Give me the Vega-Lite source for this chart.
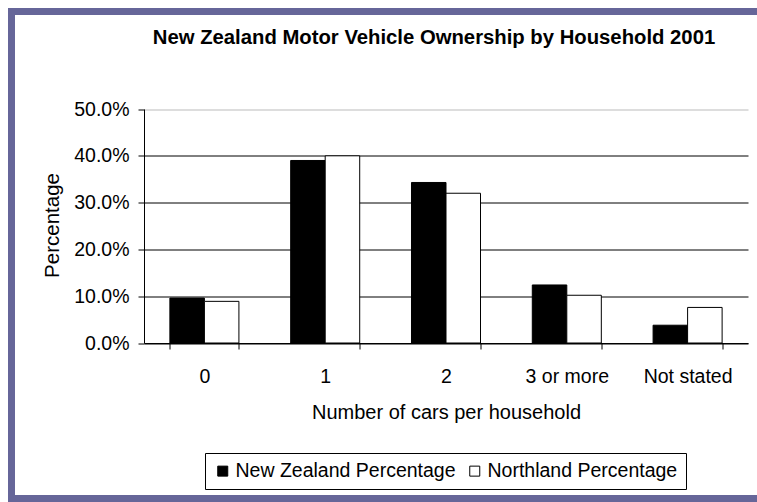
{
  "$schema": "https://vega.github.io/schema/vega-lite/v6.json",
  "width": 745.5,
  "height": 487,
  "autosize": {"type": "none"},
  "padding": {"left": 11.5, "top": 11.5, "right": 0, "bottom": 3.5},
  "background": "white",
  "config": {
    "font": "Liberation Sans"
  },
  "view": {
    "fill": "white",
    "stroke": "#666699",
    "strokeWidth": 7,
    "strokeDash": [745.5, 487, 1240, 10]
  },
  "title": {
    "text": "New Zealand Motor Vehicle Ownership by Household 2001",
    "fontSize": 20.3,
    "fontWeight": "bold",
    "color": "black",
    "anchor": "middle",
    "frame": "group",
    "offset": 0,
    "baseline": "top",
    "dx": 49.75,
    "dy": 36.5
  },
  "data": {
    "values": [
      {"cars": "0", "series": "New Zealand Percentage", "share": 0.096},
      {"cars": "0", "series": "Northland Percentage", "share": 0.089},
      {"cars": "1", "series": "New Zealand Percentage", "share": 0.390},
      {"cars": "1", "series": "Northland Percentage", "share": 0.400},
      {"cars": "2", "series": "New Zealand Percentage", "share": 0.343},
      {"cars": "2", "series": "Northland Percentage", "share": 0.320},
      {"cars": "3 or more", "series": "New Zealand Percentage", "share": 0.124},
      {"cars": "3 or more", "series": "Northland Percentage", "share": 0.102},
      {"cars": "Not stated", "series": "New Zealand Percentage", "share": 0.038},
      {"cars": "Not stated", "series": "Northland Percentage", "share": 0.076}
    ]
  },
  "mark": {"type": "bar", "stroke": "black", "strokeWidth": 1},
  "encoding": {
    "x": {
      "field": "cars",
      "type": "nominal",
      "sort": ["0", "1", "2", "3 or more", "Not stated"],
      "scale": {"range": [132.5, 736.5], "paddingInner": 0.4286, "paddingOuter": 0.2143},
      "axis": {
        "title": "Number of cars per household",
        "orient": "bottom",
        "offset": -155.5,
        "labelAngle": 0,
        "labelFontSize": 19.5,
        "labelColor": "black",
        "labelPadding": 18,
        "tickSize": 6,
        "tickColor": "black",
        "tickBand": "extent",
        "domainColor": "black",
        "grid": false,
        "titleFontSize": 20,
        "titleFontWeight": "normal",
        "titleColor": "black",
        "titleBaseline": "alphabetic",
        "titleY": 75.6
      }
    },
    "xOffset": {
      "field": "series",
      "sort": ["New Zealand Percentage", "Northland Percentage"]
    },
    "y": {
      "field": "share",
      "type": "quantitative",
      "scale": {"domain": [0, 0.5], "range": [331.5, 97.5], "nice": false},
      "axis": {
        "title": "Percentage",
        "offset": -132.5,
        "format": ".1%",
        "values": [0, 0.1, 0.2, 0.3, 0.4, 0.5],
        "grid": true,
        "gridColor": {"condition": {"test": "datum.value >= 0.5", "value": "#bbbbbb"}, "value": "black"},
        "tickSize": 6,
        "tickColor": "black",
        "domainColor": "black",
        "labelFontSize": 19.5,
        "labelColor": "black",
        "labelPadding": 9,
        "titleFontSize": 20.5,
        "titleFontWeight": "normal",
        "titleColor": "black",
        "titleAngle": -90,
        "titleAlign": "center",
        "titleBaseline": "middle",
        "titleX": -92,
        "titleY": 213.5
      }
    },
    "color": {
      "field": "series",
      "type": "nominal",
      "scale": {"domain": ["New Zealand Percentage", "Northland Percentage"], "range": ["black", "white"]},
      "legend": {
        "orient": "none",
        "legendX": 193.5,
        "legendY": 441.5,
        "direction": "horizontal",
        "title": null,
        "strokeColor": "black",
        "fillColor": "white",
        "padding": 8,
        "symbolType": "square",
        "symbolSize": 100,
        "symbolStrokeColor": "black",
        "symbolStrokeWidth": 1,
        "symbolOpacity": 1,
        "labelFontSize": 19.5,
        "labelLimit": 0,
        "labelColor": "black",
        "labelOffset": 3,
        "columnPadding": 9
      }
    }
  }
}
